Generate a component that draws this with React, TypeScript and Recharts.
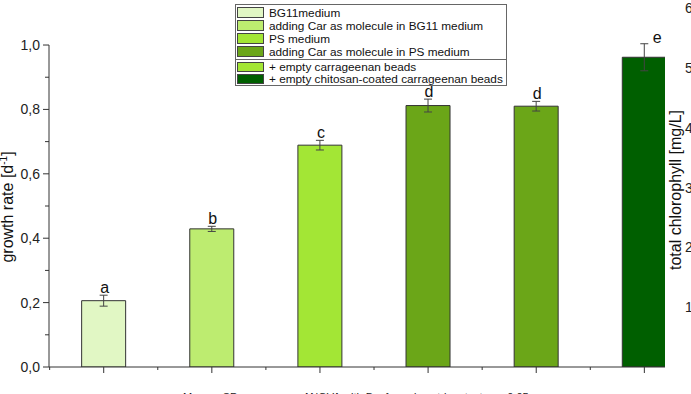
import { BarChart, Bar, XAxis, YAxis, Cell, ErrorBar, LabelList, Label, Legend, ReferenceLine } from 'recharts';

const treatments = [
    'BG11medium',
    'adding Car as molecule in BG11 medium',
    'PS medium',
    'adding Car as molecule in PS medium',
    '+ empty carrageenan beads',
    '+ empty chitosan-coated carrageenan beads',
];
const positions = [1, 2, 3, 4, 5, 6];
const growthRate = [0.206, 0.429, 0.689, 0.812, 0.81, 0.962];
const growthSd = [0.017, 0.008, 0.015, 0.02, 0.015, 0.042];
const letters = ['a', 'b', 'c', 'd', 'd', 'e'];
const barColors = ['#e1f7c4', '#bdec70', '#a3e635', '#6ba618', '#6ba618', '#005f00'];
const legendColors = ['#e1f7c4', '#bdec70', '#a3e635', '#6ba618', '#a3e635', '#005f00'];

const xTicks = [0.5, 1, 1.5, 2, 2.5, 3, 3.5, 4, 4.5, 5, 5.5, 6];
const leftTicks = [0, 0.1, 0.2, 0.3, 0.4, 0.5, 0.6, 0.7, 0.8, 0.9, 1.0];
const rightTicks = [1, 2, 3, 4, 5, 6];

const X_MIN = 0.494;
const X_MAX = 6.191;
const Y_MAX = 1.115;
const PLOT_H = 359;
const PX_PER_UNIT = PLOT_H / Y_MAX;

const data = positions.map((p, i) => ({
    pos: p,
    rate: growthRate[i],
    sd: growthSd[i],
    letter: letters[i],
}));

const font = '"Liberation Sans", Arial, sans-serif';

function XTick(props: any) {
    const { x, y, payload } = props;
    const major = Number.isInteger(payload.value);
    return <line x1={x} x2={x} y1={y} y2={y + (major ? 6 : 3)} stroke="#333" />;
}

function LeftTick(props: any) {
    const { x, y, payload } = props;
    const v = payload.value;
    const major = Math.round(v * 10) % 2 === 0;
    return (
        <g>
            <line x1={x - (major ? 6 : 4)} x2={x} y1={y} y2={y} stroke="#333" />
            {major && (
                <text x={x - 9} y={y} dy={5} textAnchor="end" fontSize={14} fill="#222">
                    {v.toFixed(1).replace('.', ',')}
                </text>
            )}
        </g>
    );
}

function RightTick(props: any) {
    const { x, y, payload } = props;
    return (
        <text x={x + 20} y={y} dy={5} textAnchor="start" fontSize={14} fill="#222">
            {payload.value}
        </text>
    );
}

function LetterLabel(props: any) {
    const vb = props.viewBox ?? props;
    const i = props.index;
    const cx = vb.x + vb.width / 2;
    const errTop = vb.y - growthSd[i] * PX_PER_UNIT;
    const last = i === growthRate.length - 1;
    return (
        <text x={last ? cx + 13 : cx + 1} y={last ? errTop - 1 : errTop - 2} textAnchor="middle" fontSize={16} fill="#111">
            {props.value}
        </text>
    );
}

function LeftTitle() {
    return (
        <text transform="translate(13,207) rotate(-90)" textAnchor="middle" fontSize={16} fill="#111">
            growth rate [d<tspan dy={-6} fontSize={10}>-1</tspan><tspan dy={6}>]</tspan>
        </text>
    );
}

function RightTitle() {
    return (
        <text transform="translate(681,190) rotate(-90)" textAnchor="middle" fontSize={16} fill="#111">
            total chlorophyll [mg/L]
        </text>
    );
}

function Note() {
    return (
        <text y={401} fontSize={11} fill="#222">
            <tspan x={183}>Mean ± SD</tspan>
            <tspan x={303}>ANOVA with Bonferroni post-hoc test, p &lt; 0.05</tspan>
        </text>
    );
}

function LegendRow({ name, color, h }: { name: string; color: string; h: number }) {
    return (
        <div style={{ display: 'flex', alignItems: 'center', height: h, whiteSpace: 'nowrap' }}>
            <span style={{ flex: 'none', width: 27, height: h - 2, background: color, border: '1px solid #444', boxSizing: 'border-box', marginRight: 5 }} />
            <span>{name}</span>
        </div>
    );
}

function LegendBox() {
    return (
        <div style={{ display: 'inline-block', border: '1px solid #666', background: '#fff', fontSize: 11.8, lineHeight: '12px', color: '#111', padding: '1px 3px 0 1px', fontFamily: font }}>
            {treatments.slice(0, 4).map((t, i) => (
                <LegendRow key={t} name={t} color={legendColors[i]} h={13} />
            ))}
            <div style={{ borderTop: '1px solid #666', margin: '1px -3px 1px -1px' }} />
            {treatments.slice(4).map((t, i) => (
                <LegendRow key={t} name={t} color={legendColors[i + 4]} h={12} />
            ))}
        </div>
    );
}

export default function App() {
    return (
        <div style={{ position: 'absolute', left: 0, top: 0, width: 691, height: 394, overflow: 'hidden', background: '#fff', fontFamily: font }}>
            <BarChart width={710} height={394} data={data} margin={{ top: 8, right: 0, bottom: 0, left: 0 }}>
                <XAxis
                    dataKey="pos"
                    type="number"
                    domain={[X_MIN, X_MAX]}
                    allowDataOverflow
                    ticks={xTicks}
                    interval={0}
                    height={27}
                    tickSize={0}
                    tickMargin={0}
                    tickLine={false}
                    axisLine={{ stroke: '#333' }}
                    tick={<XTick />}
                >
                    <Label content={<Note />} />
                </XAxis>
                <YAxis
                    yAxisId="gr"
                    domain={[0, Y_MAX]}
                    allowDataOverflow
                    ticks={leftTicks}
                    interval={0}
                    width={49}
                    tickSize={0}
                    tickMargin={0}
                    tickLine={false}
                    axisLine={false}
                    tick={<LeftTick />}
                >
                    <Label content={<LeftTitle />} />
                </YAxis>
                <YAxis
                    yAxisId="chl"
                    orientation="right"
                    domain={[0, 6]}
                    allowDataOverflow
                    ticks={rightTicks}
                    interval={0}
                    width={45}
                    tickSize={0}
                    tickMargin={0}
                    tickLine={false}
                    axisLine={false}
                    tick={<RightTick />}
                >
                    <Label content={<RightTitle />} />
                </YAxis>
                <ReferenceLine
                    yAxisId="gr"
                    segment={[{ x: X_MIN, y: 0 }, { x: X_MIN, y: 1 }]}
                    stroke="#333"
                    ifOverflow="visible"
                />
                <Legend
                    layout="horizontal"
                    verticalAlign="middle"
                    align="center"
                    content={<LegendBox />}
                    wrapperStyle={{ left: 235, top: 4, width: 'auto' }}
                />
                <Bar dataKey="rate" yAxisId="gr" barSize={44} stroke="#333" strokeWidth={1} isAnimationActive={false}>
                    {data.map((d, i) => (
                        <Cell key={d.pos} fill={barColors[i]} />
                    ))}
                    <ErrorBar dataKey="sd" width={4} stroke="#444" strokeWidth={1} direction="y" isAnimationActive={false} />
                    <LabelList dataKey="letter" content={<LetterLabel />} />
                </Bar>
            </BarChart>
        </div>
    );
}
